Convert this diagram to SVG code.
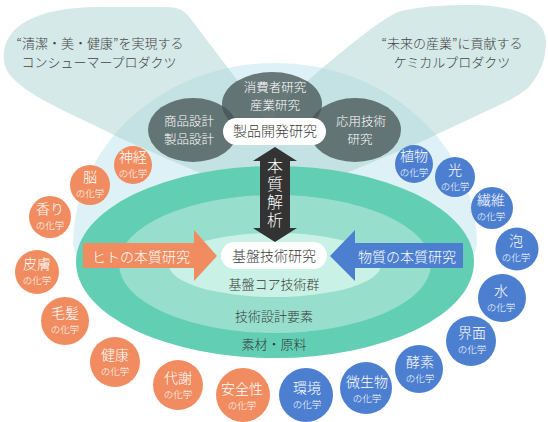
<svg xmlns="http://www.w3.org/2000/svg" width="548" height="422" viewBox="0 0 548 422">
<defs>
<style>
text{font-family:"Noto Sans CJK JP","Noto Sans CJK SC",sans-serif;text-anchor:middle;font-weight:300}
.bub{fill:#a9d4d2;opacity:.5}
.pale{fill:#c3e6f1;opacity:.55}
.gray{fill:#475555;opacity:.78}
.wt{fill:#fff}
.dk{fill:#3a3a3a}
.or{fill:#f08c60}
.bl{fill:#4d7fd1}
.t13{font-size:13px}
.t125{font-size:12.5px}
.t14{font-size:14px}
.m{font-size:14px;fill:#fff}
.s{font-size:9.5px}
</style>
</defs>
<rect width="548" height="422" fill="#fff"/>
<g id="background">
<path class="pale" d="M73,245 A202 182 0 0 1 477,245 L472,262 L78,262 Z"/>
<path class="bub" d="M275,205 L240,190 L170,160 L120,138 C70,112 8,90 4,62 C0,30 30,7 100,7 L165,7 C178,7 184,10 190,18 L275,130 Z"/>
<path class="bub" d="M275,205 L275,110 L320,70 C350,45 380,20 398,12 C418,6 445,5 470,5 C515,5 546,18 546,42 C546,60 540,74 528,88 C520,94 515,97 510,100 L425,140 L330,180 Z"/>
</g>
<g id="bubble-left">
<text class="t13" x="100" y="48" fill="#444">“清潔・美・健康”を実現する<tspan x="99" dy="19">コンシューマープロダクツ</tspan></text>
</g>
<g id="bubble-right">
<text class="t13" x="452" y="48" fill="#444">“未来の産業”に貢献する<tspan x="452" dy="19">ケミカルプロダクツ</tspan></text>
</g>
<g id="rings">
<ellipse cx="275" cy="262" rx="199" ry="96" fill="#62ceb4"/>
<ellipse cx="275" cy="264" rx="156" ry="69" fill="#97dfcc"/>
<ellipse cx="275" cy="265" rx="106" ry="32" fill="#c9f1e5"/>
<text class="t13 dk" x="274" y="289">基盤コア技術群</text>
<text class="t13 dk" x="274" y="321">技術設計要素</text>
<text class="t13 dk" x="274" y="348.5">素材・原料</text>
</g>
<g id="consumer-research">
<ellipse class="gray" cx="272" cy="104" rx="50" ry="32"/>
<text class="t125 wt" x="275" y="92">消費者研究<tspan x="275" dy="18.2">産業研究</tspan></text>
</g>
<g id="product-design">
<ellipse class="gray" cx="193" cy="130" rx="45" ry="32"/>
<text class="t125 wt" x="189" y="126">商品設計<tspan x="189" dy="18.2">製品設計</tspan></text>
</g>
<g id="applied-research">
<ellipse class="gray" cx="355" cy="130" rx="46" ry="32"/>
<text class="t125 wt" x="361" y="126">応用技術<tspan x="360" dy="18.2">研究</tspan></text>
</g>
<g id="product-development">
<rect x="223" y="118" width="103" height="27" rx="13.5" fill="#fff"/>
<text class="t14 dk" x="275" y="136">製品開発研究</text>
</g>
<g id="connectors">
<path d="M275,147 L297,161 L290,161 L290,228 L297,228 L275,242 L253,228 L260,228 L260,161 L253,161 Z" fill="#333"/>
<path class="or" d="M83,243 L194,243 L194,230 L217,256 L194,281 L194,268 L83,268 Z"/>
<path class="bl" d="M463,243 L355,243 L355,230 L330,256 L355,281 L355,268 L463,268 Z"/>
</g>
<g id="essence-analysis">
<text class="wt" x="275" y="194" font-size="16" writing-mode="vertical-rl" letter-spacing="2">本質解析</text>
</g>
<g id="human-research">
<text class="t14 wt" x="141" y="262">ヒトの本質研究</text>
</g>
<g id="material-research">
<text class="t14 wt" x="407" y="262">物質の本質研究</text>
</g>
<g id="basic-research">
<rect x="221" y="242" width="106" height="27" rx="13.5" fill="#fff"/>
<text class="t14 dk" x="274" y="260.5">基盤技術研究</text>
</g>
<g id="c-nerve"><circle class="or" cx="133" cy="165" r="19"/><text class="m" x="133" y="162">神経<tspan class="s" x="133" dy="14.5">の化学</tspan></text></g>
<g id="c-brain"><circle class="or" cx="90" cy="185" r="20"/><text class="m" x="90" y="182">脳<tspan class="s" x="90" dy="14.5">の化学</tspan></text></g>
<g id="c-scent"><circle class="or" cx="50" cy="217" r="21"/><text class="m" x="50" y="214">香り<tspan class="s" x="50" dy="15">の化学</tspan></text></g>
<g id="c-skin"><circle class="or" cx="37" cy="272" r="22"/><text class="m" x="37" y="269">皮膚<tspan class="s" x="37" dy="15">の化学</tspan></text></g>
<g id="c-hair"><circle class="or" cx="65" cy="321" r="24"/><text class="m" x="65" y="318">毛髪<tspan class="s" x="65" dy="15">の化学</tspan></text></g>
<g id="c-health"><circle class="or" cx="115" cy="362" r="25"/><text class="m" x="115" y="360">健康<tspan class="s" x="115" dy="15">の化学</tspan></text></g>
<g id="c-metabolism"><circle class="or" cx="178" cy="385" r="25"/><text class="m" x="178" y="383">代謝<tspan class="s" x="178" dy="15">の化学</tspan></text></g>
<g id="c-safety"><circle class="or" cx="243" cy="395" r="27"/><text class="m" x="242" y="394">安全性<tspan class="s" x="242" dy="15">の化学</tspan></text></g>
<g id="c-plant"><circle class="bl" cx="414" cy="164" r="19"/><text class="m" x="414" y="161">植物<tspan class="s" x="414" dy="14.5">の化学</tspan></text></g>
<g id="c-light"><circle class="bl" cx="455" cy="177" r="20"/><text class="m" x="455" y="175">光<tspan class="s" x="455" dy="14.5">の化学</tspan></text></g>
<g id="c-fiber"><circle class="bl" cx="492" cy="208" r="21"/><text class="m" x="491" y="205">繊維<tspan class="s" x="491" dy="15">の化学</tspan></text></g>
<g id="c-foam"><circle class="bl" cx="517" cy="249" r="21.5"/><text class="m" x="516" y="246">泡<tspan class="s" x="516" dy="15">の化学</tspan></text></g>
<g id="c-water"><circle class="bl" cx="502" cy="298" r="24"/><text class="m" x="501" y="296">水<tspan class="s" x="501" dy="15">の化学</tspan></text></g>
<g id="c-interface"><circle class="bl" cx="471" cy="341" r="25"/><text class="m" x="472" y="338">界面<tspan class="s" x="472" dy="15">の化学</tspan></text></g>
<g id="c-enzyme"><circle class="bl" cx="419" cy="369" r="24"/><text class="m" x="420" y="367">酵素<tspan class="s" x="420" dy="15">の化学</tspan></text></g>
<g id="c-microbe"><circle class="bl" cx="366" cy="388" r="26"/><text class="m" x="367" y="387">微生物<tspan class="s" x="367" dy="15">の化学</tspan></text></g>
<g id="c-environment"><circle class="bl" cx="306" cy="395" r="27"/><text class="m" x="307" y="393">環境<tspan class="s" x="307" dy="15">の化学</tspan></text></g>
</svg>
